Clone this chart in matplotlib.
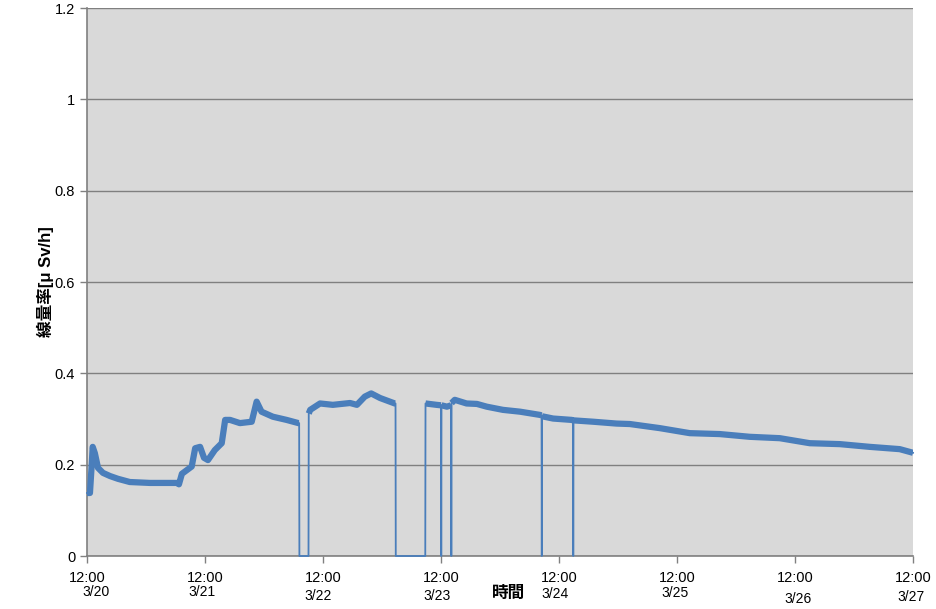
import matplotlib
matplotlib.use('Agg')
import matplotlib.pyplot as plt
import numpy as np

plt.rcParams['font.family'] = ['Liberation Sans', 'Noto Sans CJK JP']

# hours since 3/20 12:00 and dose rate [uSv/h]
hours = [0.0, 0.6, 0.96, 1.16, 1.6, 2.24, 3.25, 4.7, 6.3, 8.7, 12.8, 18.3, 18.7,
         19.3, 21.3, 22.0, 23.0, 23.8, 24.6, 26.0, 27.4, 28.1, 29.1, 31.1, 33.5,
         34.5, 35.5, 37.8, 40.6, 43.0, 43.15, 43.2, 45.05, 45.1, 45.4, 47.4, 50.0,
         53.5, 54.9, 56.5, 57.8, 59.6, 62.6, 62.75, 62.8, 68.8, 68.85, 71.1, 72.0,
         72.05, 72.1, 73.2, 74.05, 74.1, 74.15, 74.8, 77.2, 79.3, 81.3, 84.6, 88.1,
         92.1, 92.45, 92.5, 92.55, 94.8, 98.6, 98.85, 98.9, 98.95, 103.0, 107.7,
         110.4, 116.5, 122.6, 128.7, 134.8, 140.9, 147.0, 153.1, 159.2, 165.3, 168.0]
dose = [0.138, 0.138, 0.200, 0.239, 0.225, 0.193, 0.182, 0.175, 0.169, 0.162, 0.160,
        0.160, 0.157, 0.180, 0.196, 0.236, 0.239, 0.215, 0.210, 0.232, 0.247, 0.298,
        0.298, 0.291, 0.294, 0.338, 0.316, 0.305, 0.298, 0.291, 0.291, 0.0, 0.0,
        0.312, 0.320, 0.334, 0.331, 0.335, 0.331, 0.349, 0.356, 0.346, 0.334, 0.334,
        0.0, 0.0, 0.334, 0.331, 0.330, 0.0, 0.330, 0.327, 0.330, 0.0, 0.335, 0.342,
        0.334, 0.333, 0.327, 0.320, 0.316, 0.309, 0.308, 0.0, 0.306, 0.301, 0.298,
        0.297, 0.0, 0.297, 0.294, 0.290, 0.289, 0.280, 0.269, 0.267, 0.261, 0.258,
        0.247, 0.245, 0.239, 0.234, 0.226]

tick_hours = [0, 24, 48, 72, 96, 120, 144, 168]
tick_labels = ['12:00'] * 8
dates = ['3/20', '3/21', '3/22', '3/23', '3/24', '3/25', '3/26', '3/27']
# pixel positions of the date text boxes (x centre, y centre from top)
date_pos = [(96, 592), (202, 592), (318, 596), (437, 596),
            (555, 594), (675, 593), (798, 599), (911, 597)]

W, H = 937, 609
fig = plt.figure(figsize=(W / 100, H / 100), dpi=100)
ax = fig.add_axes([87 / W, 53 / H, 826 / W, 548 / H])
ax.set_facecolor('#D9D9D9')

t = np.array(hours)
y = np.array(dose)
blue = '#4A7EBB'
ax.plot(t, y, color=blue, lw=1.3, zorder=3, clip_on=False)
ax.plot(t, np.where(y > 0, y, np.nan), color=blue, lw=4.5, zorder=3,
        solid_capstyle='butt')

ax.set_xlim(0, 168)
ax.set_ylim(0, 1.2)
ax.set_yticks(np.arange(0, 1.21, 0.2))
ax.set_yticklabels(['0', '0.2', '0.4', '0.6', '0.8', '1', '1.2'])
ax.set_xticks(tick_hours)
ax.set_xticklabels(tick_labels)
ax.grid(axis='y', color='#808080', lw=1)
ax.set_axisbelow(True)
for s in ['top', 'right']:
    ax.spines[s].set_visible(False)
for s in ['left', 'bottom']:
    ax.spines[s].set_color('#808080')
    ax.spines[s].set_linewidth(1.2)
ax.tick_params(axis='both', color='#808080', length=5, width=1, labelsize=10.5,
               direction='out')
ax.tick_params(axis='x', pad=6)

for d, (px, py) in zip(dates, date_pos):
    fig.text(px / W, 1 - py / H, d, ha='center', va='center', fontsize=10)

fig.text(509 / W, 1 - 593 / H, '時間', ha='center', va='center', fontsize=12,
         fontweight='bold')
fig.text(45 / W, 1 - 282 / H, '線量率[μ Sv/h]', ha='center', va='center',
         fontsize=12, fontweight='bold', rotation=90)

fig.savefig('out.png', dpi=100)
